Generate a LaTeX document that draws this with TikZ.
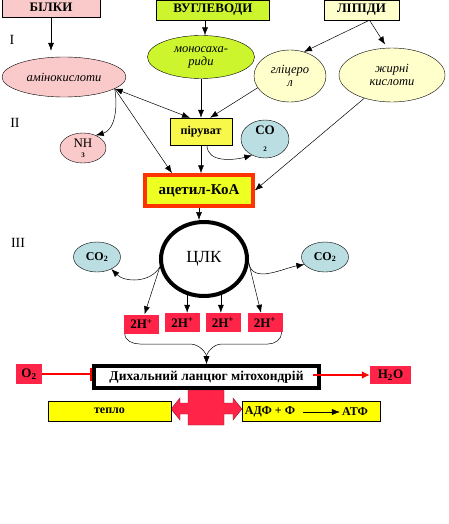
\documentclass[tikz,border=0pt]{standalone}
\usepackage{fontspec}
\setmainfont{Liberation Serif}
\usepackage{tikz}
\usetikzlibrary{shapes,arrows,arrows.meta,positioning}

\definecolor{bilpink}{HTML}{FACACA}
\definecolor{carblime}{HTML}{CCF52E}
\definecolor{lipcream}{HTML}{FFFFCC}
\definecolor{piryellow}{HTML}{F8F84A}
\definecolor{acyellow}{HTML}{EEFF22}
\definecolor{acred}{HTML}{FF3300}
\definecolor{gasblue}{HTML}{BBDEE3}
\definecolor{hred}{HTML}{FF2448}
\definecolor{heatyellow}{HTML}{FFFF00}

\tikzstyle{block1} = [rectangle, draw, text centered, inner sep=0pt,
                     font=\bfseries\fontsize{13}{15}\selectfont, minimum height=20pt]
\tikzstyle{block2} = [rectangle, draw, text centered, inner sep=0pt,
                     font=\bfseries\fontsize{12}{14}\selectfont]
\tikzstyle{subst} = [ellipse, draw, align=center, inner sep=0pt,
                     font=\itshape\fontsize{12.5}{13}\selectfont]
\tikzstyle{gas} = [ellipse, draw, fill=gasblue, align=center, inner sep=0pt,
                     font=\bfseries\fontsize{12}{13}\selectfont]
\tikzstyle{hplus} = [rectangle, fill=hred, inner sep=0pt, minimum width=35pt,
                     minimum height=19pt, font=\bfseries\fontsize{13}{15}\selectfont]
\tikzstyle{arr} = [-{Latex[length=8pt,width=6pt]}, line width=0.5pt]
\tikzstyle{redline} = [draw=red, line width=2.5pt]
\tikzstyle{level} = [font=\fontsize{14}{16}\selectfont]

\begin{document}
\begin{tikzpicture}[x=1pt,y=-1pt]
\useasboundingbox (0,0) rectangle (448,524);

% Levels
\node[level] at (12,40) (lvl1) {I};
\node[level] at (15,123) (lvl2) {II};
\node[level] at (18,243) (lvl3) {III};

% Sources
\node[block1, fill=bilpink, minimum width=98pt] at (51,7) (bilky) {БІЛКИ};
\node[block1, fill=carblime, minimum width=113pt] at (213,10) (vuhl) {ВУГЛЕВОДИ};
\node[block1, fill=lipcream, minimum width=75pt] at (361.5,10) (lipid) {ЛІПІДИ};

% Monomers
\node[subst, fill=bilpink, minimum width=124pt, minimum height=40pt] at (64,77) (amino) {амінокислоти};
\node[subst, fill=carblime, minimum width=107pt, minimum height=43pt] at (201,57) (mono) {моносаха-\\риди};
\node[subst, fill=lipcream, minimum width=72pt, minimum height=52pt] at (290,76) (glyc) {гліцеро\\л};
\node[subst, fill=lipcream, minimum width=106pt, minimum height=54pt] at (392,75) (fatty) {жирні\\кислоти};

% Stage II
\node[block2, fill=piryellow, minimum width=62pt, minimum height=27pt] at (201,131.5) (pyr) {піруват};
\node[ellipse, draw, fill=bilpink, inner sep=0pt, minimum width=46pt, minimum height=30pt,
      align=center, font=\fontsize{13}{13}\selectfont] at (83,148) (nh3) {NH\\[-3pt]{\bfseries\scriptsize 3}};
\node[gas, minimum width=48pt, minimum height=38pt, font=\bfseries\fontsize{13}{13}\selectfont]
      at (265,139) (co2a) {CO\\[4pt]{\scriptsize 2}};
\node[rectangle, draw=acred, line width=3.5pt, fill=acyellow, minimum width=108pt, minimum height=31pt,
      font=\bfseries\fontsize{15}{17}\selectfont] at (199,190.5) (acoa) {ацетил-КоА};

% Stage III
\node[ellipse, draw, line width=4pt, minimum width=86pt, minimum height=74pt,
      font=\fontsize{17}{19}\selectfont] at (204,259) (tca) {ЦЛК};
\node[gas, minimum width=47pt, minimum height=30pt] at (97,257) (co2b) {CO\textsubscript{2}};
\node[gas, minimum width=47pt, minimum height=30pt] at (325,257) (co2c) {CO\textsubscript{2}};
\node[hplus] at (141.5,324) (h1) {2H\textsuperscript{+}};
\node[hplus] at (182.5,322.5) (h2) {2H\textsuperscript{+}};
\node[hplus] at (223,322.5) (h3) {2H\textsuperscript{+}};
\node[hplus] at (265,322.5) (h4) {2H\textsuperscript{+}};

% Respiratory chain
\draw[fill=hred, draw=hred!60!black] (188,390) -- (224,390) -- (224,403) -- (233,403) -- (233,398)
  -- (242,409) -- (233,420) -- (233,414) -- (224,414) -- (224,425) -- (188,425) -- (188,414)
  -- (180,414) -- (180,420) -- (171,409) -- (180,398) -- (180,403) -- (188,403) -- cycle;
\node[rectangle, draw, line width=4pt, fill=white, minimum width=225pt, minimum height=22pt,
      font=\bfseries\fontsize{13.5}{15}\selectfont] at (206.5,377) (resp) {Дихальний ланцюг мітохондрій};
\node[hplus, minimum width=26pt, minimum height=20pt] at (29,374) (o2) {O\textsubscript{2}};
\node[hplus, minimum width=41pt, minimum height=18pt] at (390.5,375) (h2o) {H\textsubscript{2}O};
\node[block2, fill=heatyellow, minimum width=123pt, minimum height=20pt] at (109.5,411) (heat) {тепло};
\node[block2, fill=heatyellow, minimum width=138pt, minimum height=20pt] at (311,411) (energy) {};
\node[font=\bfseries\fontsize{12}{14}\selectfont, inner sep=0pt] at (270,412) (adf) {АДФ + Ф};
\node[font=\bfseries\fontsize{12}{14}\selectfont, inner sep=0pt] at (355,412) (atf) {АТФ};

% Connectors
\draw[arr, shorten >=6pt] (bilky.south) -- (bilky.south |- amino.north);
\draw[arr] ([xshift=-8pt]vuhl.south) -- ([xshift=-8pt]vuhl.south |- mono.north);
\draw[arr] ([xshift=8pt]lipid.south) -- (glyc.60);
\draw[arr, shorten >=4pt] ([xshift=8pt]lipid.south) -- (fatty.100);
\draw[arr] (mono.south) -- (pyr.north);
\draw[arr] (glyc.200) -- ([xshift=9pt]pyr.north);
\draw[{Latex[length=8pt,width=6pt]}-{Latex[length=8pt,width=6pt]}, line width=0.5pt]
  (amino.-13) -- ([xshift=-11pt]pyr.north);
\draw[arr] (amino.-13) -- ([xshift=-27pt]acoa.north);
\draw[arr] (amino.-13) to[out=-80,in=15] (nh3.45);
\draw[arr] (pyr.south) -- (pyr.south |- acoa.north);
\draw[arr] ([xshift=6pt]pyr.south) to[out=-90,in=195] (co2a.232);
\draw[arr] (fatty.220) -- (acoa.east);
\draw[arr] (acoa.south) -- (acoa.south |- tca.north);

\draw[arr] (tca.190) to[out=240,in=-45] (co2b.-40);
\draw[arr] (tca.190) -- ([xshift=3pt]h1.north);
\draw[arr] (tca.245) -- (tca.245 |- h2.north);
\draw[arr] (tca.295) -- (tca.295 |- h3.north);
\draw[arr] (tca.-5) -- ([xshift=-4pt]h4.north);
\draw[arr] (tca.-5) to[out=-80,in=190] (co2c.200);

% Brace
\coordinate (bl) at (140,344);
\coordinate (bml) at (190,344);
\coordinate (bmr) at (222,344);
\coordinate (br) at (268,344);
\draw[arr] ([xshift=1pt]h1.south west) to[out=-90,in=180] (bl) -- (bml) to[out=0,in=90] (resp.north);
\draw[arr] ([xshift=-1pt]h4.south east) to[out=-90,in=0] (br) -- (bmr) to[out=180,in=90] (resp.north);

\draw[redline, -|] (o2.east) -- (o2.east -| resp.west);
\draw[redline, -{Latex[length=8pt,width=8pt]}] ([xshift=-8pt]resp.east |- h2o.west) -- (h2o.west);
\draw[arr, shorten <=8pt, shorten >=2pt] (adf) -- (atf);
\end{tikzpicture}
\end{document}
